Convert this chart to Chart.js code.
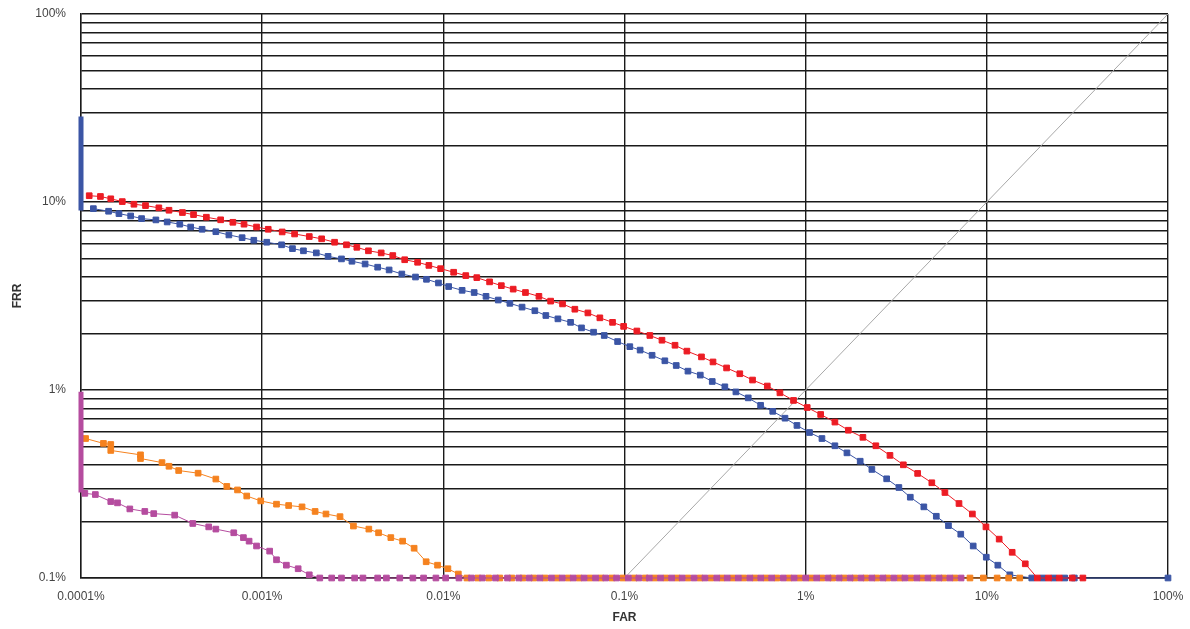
<!DOCTYPE html>
<html>
<head>
    <meta charset="utf-8">
    <title>FAR / FRR</title>
    <script src="https://cdn.jsdelivr.net/npm/chart.js"></script>
    <style>
        html, body { margin: 0; padding: 0; background: #ffffff; }
        .wrap { position: relative; width: 1190px; height: 629px; }
    </style>
</head>
<body>
<div class="wrap"><canvas id="detChart"></canvas></div>
<script>
// axis ticks (percent)
const xTicks = [0.0001, 0.001, 0.01, 0.1, 1, 10, 100];
const xTickLabels = ['0.0001%', '0.001%', '0.01%', '0.1%', '1%', '10%', '100%'];
const yTicks = [0.1, 0.2, 0.3, 0.4, 0.5, 0.6, 0.7, 0.8, 0.9,
                1, 2, 3, 4, 5, 6, 7, 8, 9,
                10, 20, 30, 40, 50, 60, 70, 80, 90, 100];
const yTickLabels = { 0.1: '0.1%', 1: '1%', 10: '10%', 100: '100%' };

// red series
const redFar = [0.000111, 0.000128, 0.000146, 0.000169, 0.000196, 0.000227, 0.000269, 0.000306, 0.000363, 0.000418,
    0.000492, 0.00059, 0.000689, 0.000794, 0.000931, 0.00108, 0.00129, 0.00151, 0.00182, 0.00213,
    0.00251, 0.00292, 0.00333, 0.00386, 0.00454, 0.00526, 0.00612, 0.00721, 0.00832, 0.00966,
    0.0114, 0.0133, 0.0153, 0.018, 0.0209, 0.0243, 0.0284, 0.0337, 0.0391, 0.0455,
    0.0532, 0.0628, 0.0731, 0.0859, 0.0989, 0.117, 0.138, 0.161, 0.190, 0.221,
    0.266, 0.308, 0.366, 0.433, 0.509, 0.614, 0.721, 0.857, 1.02, 1.21,
    1.45, 1.72, 2.07, 2.44, 2.92, 3.46, 4.15, 4.97, 5.87, 7.02,
    8.32, 9.89, 11.7, 13.8, 16.3, 19.0, 21.9, 25.1, 29.6, 33.9];
const redFrr = [10.8, 10.7, 10.4, 10.05, 9.73, 9.57, 9.31, 9.04, 8.79, 8.57,
    8.30, 8.04, 7.80, 7.62, 7.36, 7.16, 6.93, 6.76, 6.55, 6.37,
    6.11, 5.92, 5.74, 5.50, 5.36, 5.19, 4.93, 4.78, 4.60, 4.42,
    4.23, 4.06, 3.96, 3.76, 3.59, 3.44, 3.30, 3.15, 2.97, 2.87,
    2.69, 2.57, 2.42, 2.29, 2.18, 2.06, 1.95, 1.84, 1.73, 1.61,
    1.50, 1.41, 1.31, 1.22, 1.13, 1.05, 0.966, 0.880, 0.807, 0.741,
    0.675, 0.611, 0.560, 0.505, 0.449, 0.400, 0.360, 0.321, 0.285, 0.249,
    0.219, 0.187, 0.161, 0.137, 0.119, 0.1, 0.1, 0.1, 0.1, 0.1];

// blue series
const blueFar = [0.000117, 0.000142, 0.000162, 0.000188, 0.000216, 0.000259, 0.000299, 0.000351, 0.000403, 0.000466,
    0.000555, 0.000655, 0.000775, 0.000899, 0.00106, 0.00128, 0.00147, 0.00169, 0.00199, 0.00231,
    0.00274, 0.00313, 0.0037, 0.00434, 0.00502, 0.0059, 0.00702, 0.00807, 0.0094, 0.0107,
    0.0127, 0.0148, 0.0172, 0.0201, 0.0233, 0.0272, 0.032, 0.0368, 0.0429, 0.0504,
    0.0579, 0.0675, 0.0773, 0.0916, 0.107, 0.122, 0.142, 0.167, 0.193, 0.224,
    0.262, 0.305, 0.358, 0.412, 0.482, 0.564, 0.658, 0.769, 0.895, 1.05,
    1.23, 1.45, 1.69, 2.00, 2.32, 2.80, 3.27, 3.78, 4.49, 5.26,
    6.14, 7.18, 8.41, 9.93, 11.5, 13.4, 17.7, 20.4, 23.4, 26.9,
    30.4, 100];
const blueFrr = [9.22, 8.93, 8.67, 8.43, 8.16, 8.03, 7.83, 7.62, 7.36, 7.16,
    6.95, 6.68, 6.46, 6.26, 6.11, 5.92, 5.65, 5.50, 5.36, 5.14,
    4.98, 4.84, 4.68, 4.50, 4.35, 4.14, 3.99, 3.88, 3.71, 3.55,
    3.39, 3.30, 3.15, 3.01, 2.89, 2.76, 2.64, 2.49, 2.39, 2.29,
    2.14, 2.03, 1.95, 1.81, 1.70, 1.63, 1.53, 1.43, 1.35, 1.26,
    1.20, 1.11, 1.04, 0.977, 0.908, 0.829, 0.770, 0.708, 0.648, 0.594,
    0.552, 0.505, 0.463, 0.418, 0.378, 0.337, 0.303, 0.269, 0.239, 0.213,
    0.190, 0.171, 0.148, 0.129, 0.117, 0.104, 0.1, 0.1, 0.1, 0.1,
    0.1, 0.1];

// orange series
const orangeFar = [0.000106, 0.000133, 0.000146, 0.000146, 0.000213, 0.000213, 0.00028, 0.000306, 0.000346, 0.000443,
    0.000555, 0.000638, 0.000731, 0.000822, 0.000982, 0.0012, 0.0014, 0.00166, 0.00196, 0.00225,
    0.00269, 0.00319, 0.00388, 0.00439, 0.00513, 0.00596, 0.0069, 0.00804, 0.00929, 0.0106,
    0.0121, 0.0135, 0.0155, 0.0178, 0.0205, 0.0239, 0.0275, 0.0316, 0.0364, 0.0424,
    0.0488, 0.0561, 0.0644, 0.0741, 0.0851, 0.098, 0.113, 0.130, 0.147, 0.169,
    0.195, 0.224, 0.261, 0.300, 0.345, 0.396, 0.456, 0.525, 0.604, 0.693,
    0.809, 0.929, 1.07, 1.23, 1.41, 1.63, 1.87, 2.15, 2.47, 2.84,
    3.31, 3.81, 4.39, 5.04, 5.79, 6.67, 8.07, 9.57, 11.4, 13.2,
    15.2];
const orangeFrr = [0.552, 0.520, 0.513, 0.477, 0.452, 0.432, 0.411, 0.393, 0.373, 0.361,
    0.336, 0.307, 0.294, 0.273, 0.257, 0.247, 0.243, 0.239, 0.226, 0.219,
    0.212, 0.189, 0.182, 0.174, 0.164, 0.157, 0.144, 0.122, 0.117, 0.112,
    0.105, 0.1, 0.1, 0.1, 0.1, 0.1, 0.1, 0.1, 0.1, 0.1,
    0.1, 0.1, 0.1, 0.1, 0.1, 0.1, 0.1, 0.1, 0.1, 0.1,
    0.1, 0.1, 0.1, 0.1, 0.1, 0.1, 0.1, 0.1, 0.1, 0.1,
    0.1, 0.1, 0.1, 0.1, 0.1, 0.1, 0.1, 0.1, 0.1, 0.1,
    0.1, 0.1, 0.1, 0.1, 0.1, 0.1, 0.1, 0.1, 0.1, 0.1,
    0.1];

// magenta series
const magentaFar = [0.000105, 0.00012, 0.000146, 0.000159, 0.000186, 0.000225, 0.000252, 0.000329, 0.000414, 0.000507,
    0.000555, 0.000697, 0.000788, 0.000847, 0.000931, 0.0011, 0.0012, 0.00136, 0.00158, 0.00182,
    0.00208, 0.00242, 0.00274, 0.00324, 0.0036, 0.00434, 0.00485, 0.00575, 0.00679, 0.00778,
    0.0091, 0.0103, 0.0122, 0.0143, 0.0164, 0.0194, 0.0226, 0.0261, 0.0298, 0.0341,
    0.0395, 0.0453, 0.0521, 0.0598, 0.0692, 0.0787, 0.0904, 0.105, 0.12, 0.137,
    0.158, 0.182, 0.208, 0.242, 0.278, 0.323, 0.369, 0.425, 0.492, 0.565,
    0.649, 0.752, 0.863, 1.0, 1.15, 1.33, 1.53, 1.76, 2.02, 2.32,
    2.67, 3.07, 3.53, 4.11, 4.73, 5.45, 6.25, 7.21];
const magentaFrr = [0.282, 0.278, 0.255, 0.251, 0.233, 0.226, 0.220, 0.216, 0.195, 0.187,
    0.182, 0.174, 0.164, 0.157, 0.148, 0.139, 0.125, 0.117, 0.112, 0.104,
    0.1, 0.1, 0.1, 0.1, 0.1, 0.1, 0.1, 0.1, 0.1, 0.1,
    0.1, 0.1, 0.1, 0.1, 0.1, 0.1, 0.1, 0.1, 0.1, 0.1,
    0.1, 0.1, 0.1, 0.1, 0.1, 0.1, 0.1, 0.1, 0.1, 0.1,
    0.1, 0.1, 0.1, 0.1, 0.1, 0.1, 0.1, 0.1, 0.1, 0.1,
    0.1, 0.1, 0.1, 0.1, 0.1, 0.1, 0.1, 0.1, 0.1, 0.1,
    0.1, 0.1, 0.1, 0.1, 0.1, 0.1, 0.1, 0.1];

// spreads at the lowest FAR, and the FAR = FRR line
const barFar = [0.0001, 0.0001];
const blueBarFrr = [28.5, 9.0];
const magentaBarFrr = [0.98, 0.285];
const parityFar = [0.1, 100];
const parityFrr = [0.1, 100];

const pts = (xs, ys) => xs.map((x, i) => ({ x: x, y: ys[i] }));

function curve(xs, ys, color) {
    return {
        data: pts(xs, ys),
        borderColor: color,
        backgroundColor: color,
        borderWidth: 1,
        pointStyle: 'rect',
        pointRadius: 4,
        pointBorderWidth: 1,
        clip: 8
    };
}

function bar(xs, ys, color) {
    return { data: pts(xs, ys), borderColor: color, borderWidth: 5, pointRadius: 0, clip: false };
}

const axisFont = { family: "'Liberation Sans', Arial, sans-serif", size: 12 };
const gridColor = '#1a1a1a';

new Chart(document.getElementById('detChart'), {
    type: 'line',
    data: {
        datasets: [
            bar(barFar, blueBarFrr, '#3b55a5'),
            bar(barFar, magentaBarFrr, '#b54c9f'),
            curve(magentaFar, magentaFrr, '#b54c9f'),
            curve(orangeFar, orangeFrr, '#f5821f'),
            curve(redFar, redFrr, '#ec1c24'),
            curve(blueFar, blueFrr, '#3b55a5'),
            { data: pts(parityFar, parityFrr), borderColor: '#a8a8a8', borderWidth: 1, pointRadius: 0 }
        ]
    },
    options: {
        responsive: true,
        maintainAspectRatio: false,
        animation: false,
        layout: { padding: { top: 14, right: 22, left: 0, bottom: 0 } },
        plugins: { legend: { display: false }, tooltip: { enabled: false } },
        scales: {
            x: {
                type: 'logarithmic',
                min: 0.0001,
                max: 100,
                // fixed band under the plot; labels must not push the plot edges
                afterFit: s => { s.height = 51; s.paddingLeft = 0; s.paddingRight = 0; },
                afterBuildTicks: s => { s.ticks = xTicks.map(v => ({ value: v })); },
                grid: { color: gridColor, lineWidth: 1.4, drawTicks: false },
                border: { color: gridColor, width: 1.4 },
                ticks: {
                    color: '#444',
                    font: axisFont,
                    padding: 11,
                    maxRotation: 0,
                    autoSkip: false,
                    callback: (v, i) => xTickLabels[i]
                },
                title: { display: true, text: 'FAR', color: '#333', font: { family: axisFont.family, size: 12, weight: 'bold' }, padding: { top: 0, bottom: 4 } }
            },
            y: {
                type: 'logarithmic',
                min: 0.1,
                max: 100,
                afterFit: s => { s.width = 81; s.paddingTop = 0; s.paddingBottom = 0; },
                afterBuildTicks: s => { s.ticks = yTicks.map(v => ({ value: v })); },
                grid: { color: gridColor, lineWidth: 1.4, drawTicks: false },
                border: { color: gridColor, width: 1.4 },
                ticks: {
                    color: '#444',
                    font: axisFont,
                    padding: 15,
                    autoSkip: false,
                    callback: v => yTickLabels[v] || ''
                },
                title: { display: true, text: 'FRR', color: '#333', font: { family: axisFont.family, size: 12, weight: 'bold' }, padding: { top: 10, bottom: 0 } }
            }
        }
    }
});
</script>
</body>
</html>
